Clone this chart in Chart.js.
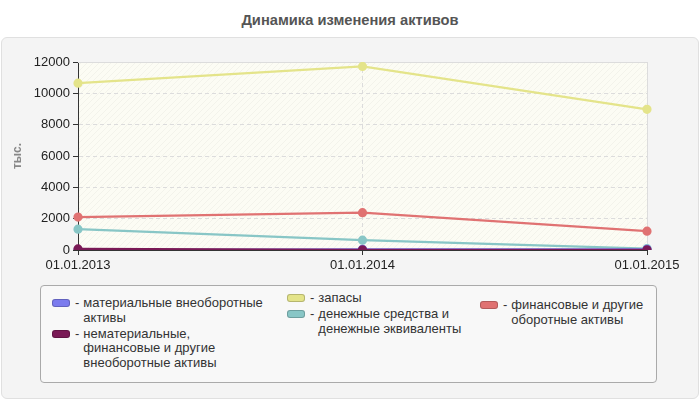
<!DOCTYPE html>
<html>
<head>
  <meta charset="utf-8">
  <title>Динамика изменения активов</title>
  <script src="https://cdn.jsdelivr.net/npm/chart.js"></script>
  <style>
    body { margin: 0; width: 700px; height: 400px; background: #fff; position: relative; overflow: hidden;
           font-family: "Liberation Sans", Arial, sans-serif; }
    #title { position: absolute; left: 0; top: 12px; width: 700px; text-align: center;
             font-weight: bold; font-size: 14.7px; color: #555; }
    #panel { position: absolute; left: 1px; top: 37px; width: 696px; height: 360px; background: #f4f4f4;
             border: 1px solid #e0e0e0; border-radius: 6px; }
    #wrap { position: absolute; left: 0; top: 0; width: 700px; height: 280px; }
    #legend { position: absolute; left: 40px; top: 285px; width: 617px; height: 98px; box-sizing: border-box;
              background: #f8f8f8; border: 1px solid #aaa; border-radius: 4px; }
    .col { position: absolute; }
    .item { display: flex; font-size: 13px; color: #333; line-height: 14.5px; margin-bottom: 1.5px; }
    .sw { flex: none; width: 16px; height: 6px; border-radius: 3px; margin-top: 3px; border: 1px solid; }
    .dash { flex: none; margin: 0 4px 0 5px; }
  </style>
</head>
<body>
  <div id="title">Динамика изменения активов</div>
  <div id="panel"></div>
  <div id="wrap"><canvas id="assetsChart"></canvas></div>
  <div id="legend"></div>

  <script>
    const dates = ['01.01.2013', '01.01.2014', '01.01.2015'];

    const tangibleAssets = [0, 40, 40];
    const intangibleAssets = [70, 10, 10];
    const inventories = [10650, 11720, 8980];
    const cashAssets = [1330, 630, 90];
    const otherCurrentAssets = [2100, 2380, 1200];

    const seriesNames = [
      ['материальные внеоборотные', 'активы'],
      ['нематериальные,', 'финансовые и другие', 'внеоборотные активы'],
      ['запасы'],
      ['денежные средства и', 'денежные эквиваленты'],
      ['финансовые и другие', 'оборотные активы']
    ];
    const seriesColors = ['#7b7bee', '#7a1a56', '#e4e48a', '#88c6c6', '#e07272'];

    const yTicks = { min: 0, max: 12000, step: 2000 };

    // hatched pale background of the plot area
    function hatch() {
      const c = document.createElement('canvas');
      c.width = 6; c.height = 6;
      const g = c.getContext('2d');
      g.fillStyle = '#fcfcf4';
      g.fillRect(0, 0, 6, 6);
      g.strokeStyle = 'rgba(0,0,0,0.035)';
      g.lineWidth = 1;
      g.beginPath();
      g.moveTo(0, 6); g.lineTo(6, 0);
      g.moveTo(-1, 1); g.lineTo(1, -1);
      g.moveTo(5, 7); g.lineTo(7, 5);
      g.stroke();
      return g.createPattern(c, 'repeat');
    }

    const plotFrame = {
      id: 'plotFrame',
      beforeDraw(chart) {
        const a = chart.chartArea, ctx = chart.ctx;
        ctx.save();
        ctx.fillStyle = hatch();
        ctx.fillRect(a.left, a.top, a.right - a.left, a.bottom - a.top);
        ctx.restore();
      },
      beforeDatasetsDraw(chart) {
        const a = chart.chartArea, ctx = chart.ctx;
        ctx.save();
        ctx.strokeStyle = '#dcdcdc';
        ctx.lineWidth = 1;
        ctx.beginPath();
        ctx.moveTo(a.left, a.top + 0.5); ctx.lineTo(a.right + 0.5, a.top + 0.5);
        ctx.lineTo(a.right + 0.5, a.bottom);
        ctx.stroke();
        ctx.restore();
      }
    };

    const values = [tangibleAssets, intangibleAssets, inventories, cashAssets, otherCurrentAssets];

    const ctx = document.getElementById('assetsChart').getContext('2d');
    const chart = new Chart(ctx, {
      type: 'line',
      data: {
        labels: dates,
        datasets: values.map((v, i) => ({
          label: seriesNames[i].join(' '),
          data: v,
          borderColor: seriesColors[i],
          backgroundColor: seriesColors[i],
          borderWidth: 2.2,
          pointRadius: 3.5,
          pointHoverRadius: 3.5,
          tension: 0,
          order: i === 1 ? 0 : i + 1
        }))
      },
      options: {
        responsive: true,
        maintainAspectRatio: false,
        animation: false,
        layout: { padding: { left: 0, right: 53, top: 62, bottom: 0 } },
        plugins: { legend: { display: false }, tooltip: { enabled: false } },
        scales: {
          x: {
            offset: false,
            afterFit(s) { s.height = 30; },
            border: { color: '#333', width: 1, dash: [4, 3] },
            grid: { offset: false, color: '#dcdcdc', tickColor: '#333', tickLength: 5, tickBorderDash: [] },
            ticks: { color: '#222', font: { family: 'Liberation Sans', size: 13 }, padding: 3, maxRotation: 0 }
          },
          y: {
            min: yTicks.min,
            max: yTicks.max,
            afterFit(s) { s.width = 78; },
            border: { color: '#333', width: 1, dash: [4, 3] },
            grid: { color: '#dcdcdc', tickColor: '#333', tickLength: 5, tickBorderDash: [] },
            ticks: { stepSize: yTicks.step, color: '#222', font: { family: 'Liberation Sans', size: 13 }, padding: 3,
                     callback: v => String(v) },
            title: { display: true, text: 'тыс.', color: '#888', padding: { top: 10, bottom: 0 },
                     font: { family: 'Liberation Sans', size: 12, weight: 'bold' } }
          }
        }
      },
      plugins: [plotFrame]
    });

    // html legend, three columns
    const columns = [
      { items: [0, 1], left: 11, top: 10 },
      { items: [2, 3], left: 246, top: 5 },
      { items: [4], left: 439, top: 12 }
    ];
    const legend = document.getElementById('legend');
    columns.forEach(col => {
      const div = document.createElement('div');
      div.className = 'col';
      div.style.left = col.left + 'px';
      div.style.top = col.top + 'px';
      col.items.forEach(i => {
        const ds = chart.data.datasets[i];
        const item = document.createElement('div');
        item.className = 'item';
        const sw = document.createElement('span');
        sw.className = 'sw';
        sw.style.background = ds.backgroundColor;
        sw.style.borderColor = 'rgba(0,0,0,0.2)';
        const dash = document.createElement('span');
        dash.className = 'dash';
        dash.textContent = '-';
        const txt = document.createElement('span');
        txt.innerHTML = seriesNames[i].join('<br>');
        item.append(sw, dash, txt);
        div.appendChild(item);
      });
      legend.appendChild(div);
    });
  </script>
</body>
</html>
